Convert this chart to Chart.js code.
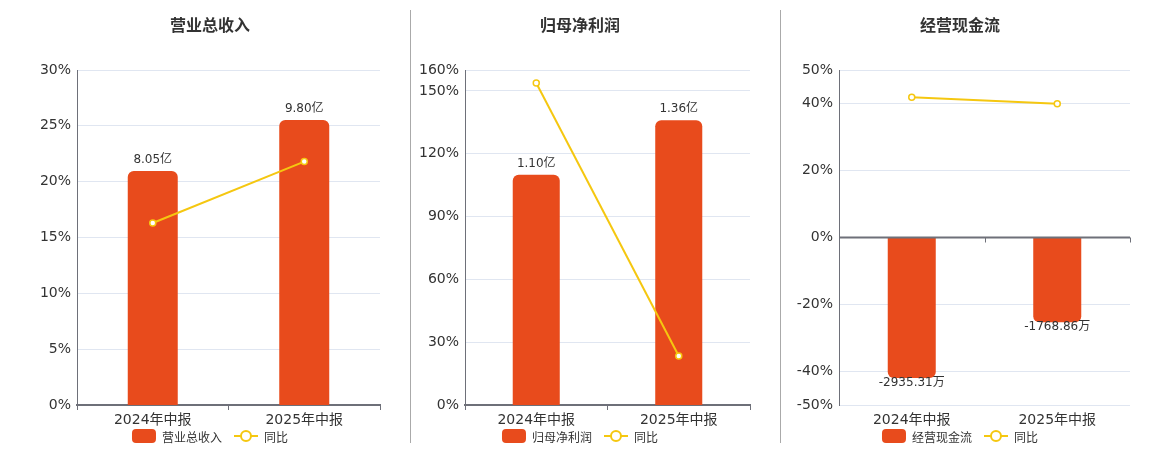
<!DOCTYPE html>
<html>
<head>
<meta charset="utf-8">
<script src="https://cdn.jsdelivr.net/npm/chart.js@4/dist/chart.umd.min.js"></script>
<style>
    body { margin: 0; width: 1160px; height: 450px; background: #fff; position: relative; overflow: hidden;
           font-family: "DejaVu Sans", "Noto Sans CJK SC", sans-serif; }
    canvas { position: absolute; top: 0; }
    .title { position: absolute; top: 12px; font-size: 16px; font-weight: bold; color: #333;
             transform: translateX(-50%); white-space: nowrap; }
    .legend { position: absolute; top: 429px; height: 14px; font-size: 12px; color: #333;
              transform: translateX(-50%); display: flex; align-items: center; white-space: nowrap; }
    .legend .box { display: inline-block; width: 24px; height: 14px; border-radius: 4px; background: #e84b1c; margin-right: 6px; }
    .legend svg { margin: 0 6px 0 12px; }
    .sep { position: absolute; top: 10px; height: 433px; width: 1px; background: #aaa; }
</style>
</head>
<body>

<div class="sep" style="left:410px"></div>
<div class="sep" style="left:780px"></div>

<canvas id="c1" width="405" height="450" style="left:0px"></canvas>
<canvas id="c2" width="360" height="450" style="left:415px"></canvas>
<canvas id="c3" width="375" height="450" style="left:785px"></canvas>

<div id="panels"></div>

<script>
// ==================== DATOS ====================
const categories = ['2024年中报', '2025年中报'];

// 营业总收入 (亿) y 同比 (%)
const revenue = [8.05, 9.80];
const revenueYoy = [16.3, 21.8];
const revenueTicks = [0, 5, 10, 15, 20, 25, 30];

// 归母净利润 (亿) y 同比 (%)
const profit = [1.10, 1.36];
const profitYoy = [153.8, 23.4];
const profitTicks = [0, 30, 60, 90, 120, 150, 160];

// 经营现金流 (万) y 同比 (%)
const cashFlow = [-2935.31, -1768.86];
const cashFlowYoy = [41.9, 39.9];
const cashFlowTicks = [-50, -40, -20, 0, 20, 40, 50];

const BAR_COLOR = '#e84b1c';
const LINE_COLOR = '#f5c710';
const AXIS_COLOR = '#6e7079';
const GRID_COLOR = '#e0e6f1';

Chart.defaults.font.family = '"DejaVu Sans", "Noto Sans CJK SC", sans-serif';
Chart.defaults.color = '#333';

// Etiquetas de valor sobre / bajo las barras
const barLabelPlugin = {
    id: 'barLabels',
    afterDatasetsDraw(chart) {
        const ctx = chart.ctx;
        const meta = chart.getDatasetMeta(0);
        const ds = chart.data.datasets[0];
        ctx.save();
        ctx.font = '12px "DejaVu Sans", "Noto Sans CJK SC"';
        ctx.fillStyle = '#333';
        ctx.textAlign = 'center';
        ctx.textBaseline = 'middle';
        meta.data.forEach((bar, i) => {
            const v = ds.data[i];
            const y = v >= 0 ? bar.y - 11 : bar.y + 5;
            ctx.fillText(v.toFixed(2) + ds.unit, bar.x, y);
        });
        ctx.restore();
    }
};

// Eje en el cero (solo cuando hay valores negativos)
const zeroAxisPlugin = {
    id: 'zeroAxis',
    afterDatasetsDraw(chart, args, opts) {
        if (!opts.show) return;
        const ctx = chart.ctx;
        const y0 = chart.scales.y.getPixelForValue(0);
        const { left, right } = chart.chartArea;
        const n = chart.data.labels.length;
        ctx.save();
        ctx.strokeStyle = AXIS_COLOR;
        ctx.lineWidth = 2;
        ctx.beginPath();
        ctx.moveTo(left, y0);
        ctx.lineTo(right, y0);
        ctx.stroke();
        ctx.lineWidth = 1;
        for (let i = 0; i <= n; i++) {
            const x = Math.round(left + i * (right - left) / n) + 0.5;
            ctx.beginPath();
            ctx.moveTo(x, y0);
            ctx.lineTo(x, y0 + 5);
            ctx.stroke();
        }
        ctx.restore();
    }
};

function makePanel(cfg) {
    const negative = cfg.bars.some(v => v < 0);

    // título y leyenda en HTML
    const panels = document.getElementById('panels');
    const t = document.createElement('div');
    t.className = 'title';
    t.style.left = cfg.center + 'px';
    t.textContent = cfg.name;
    panels.appendChild(t);

    const lg = document.createElement('div');
    lg.className = 'legend';
    lg.style.left = cfg.center + 'px';
    lg.innerHTML = `<span class="box"></span>${cfg.name}` +
        `<svg width="24" height="14"><line x1="0" y1="7" x2="24" y2="7" stroke="${LINE_COLOR}" stroke-width="2"/>` +
        `<circle cx="12" cy="7" r="5" fill="#fff" stroke="${LINE_COLOR}" stroke-width="2"/></svg>同比`;
    panels.appendChild(lg);

    return new Chart(document.getElementById(cfg.canvas), {
        data: {
            labels: categories,
            datasets: [
                {
                    type: 'bar',
                    label: cfg.name,
                    unit: cfg.unit,
                    data: cfg.bars,
                    yAxisID: 'yb',
                    backgroundColor: BAR_COLOR,
                    borderRadius: 6,
                    borderSkipped: 'start',
                    barPercentage: 0.33,
                    categoryPercentage: 1,
                    order: 1
                },
                {
                    type: 'line',
                    label: '同比',
                    data: cfg.yoy,
                    yAxisID: 'y',
                    borderColor: LINE_COLOR,
                    borderWidth: 2,
                    pointRadius: 3,
                    pointBackgroundColor: '#fff',
                    pointBorderColor: LINE_COLOR,
                    pointBorderWidth: 1.5,
                    tension: 0,
                    order: 0
                }
            ]
        },
        options: {
            responsive: false,
            animation: false,
            layout: { padding: { top: 70, right: cfg.padRight, bottom: 21, left: 0 } },
            plugins: {
                legend: { display: false },
                title: { display: false },
                tooltip: { enabled: false },
                zeroAxis: { show: negative }
            },
            scales: {
                x: {
                    offset: true,
                    grid: {
                        offset: true,
                        drawOnChartArea: false,
                        tickLength: 5,
                        color: negative ? 'transparent' : AXIS_COLOR
                    },
                    border: { display: !negative, color: AXIS_COLOR, width: 2 },
                    ticks: { font: { size: 14 }, color: '#333', padding: 2 },
                    afterFit: axis => { axis.height = 24; }
                },
                y: {
                    position: 'left',
                    min: cfg.ticks[0],
                    max: cfg.ticks[cfg.ticks.length - 1],
                    afterBuildTicks: axis => { axis.ticks = cfg.ticks.map(v => ({ value: v })); },
                    grid: { color: GRID_COLOR, drawTicks: false },
                    border: { color: AXIS_COLOR, width: 1 },
                    ticks: {
                        font: { size: 14 },
                        color: '#333',
                        padding: 6,
                        callback: v => v + '%'
                    },
                    afterFit: axis => { axis.width = cfg.leftWidth; }
                },
                yb: {
                    display: false,
                    min: cfg.barMin,
                    max: cfg.barMax
                }
            }
        },
        plugins: [zeroAxisPlugin, barLabelPlugin]
    });
}

makePanel({
    canvas: 'c1', name: '营业总收入', unit: '亿', center: 210,
    bars: revenue, yoy: revenueYoy, ticks: revenueTicks,
    barMin: 0, barMax: 11.52, leftWidth: 77, padRight: 25
});

makePanel({
    canvas: 'c2', name: '归母净利润', unit: '亿', center: 580,
    bars: profit, yoy: profitYoy, ticks: profitTicks,
    barMin: 0, barMax: 1.60, leftWidth: 50, padRight: 25
});

makePanel({
    canvas: 'c3', name: '经营现金流', unit: '万', center: 960,
    bars: cashFlow, yoy: cashFlowYoy, ticks: cashFlowTicks,
    barMin: -3500, barMax: 3500, leftWidth: 54, padRight: 30
});
</script>
</body>
</html>
